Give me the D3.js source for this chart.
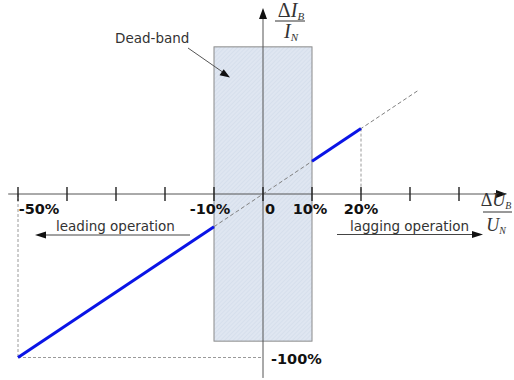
<!DOCTYPE html>
<html><head><meta charset="utf-8">
<script src="https://cdn.jsdelivr.net/npm/d3@7"></script>
<style>
body{margin:0;background:#fff;}
svg{display:block;}
</style></head>
<body>
<svg id="c" width="514" height="380"></svg>
<script>
// ---- data ----
const xTicks = [-50, -40, -30, -20, -10, 0, 10, 20, 30, 40];
const xTickLabels = [
  {v: -50, t: "-50%"}, {v: -10, t: "-10%"}, {v: 0, t: "0"}, {v: 10, t: "10%"}, {v: 20, t: "20%"}
];
const yLabelValue = -100, yLabelText = "-100%";
const deadBand = {x0: -10, x1: 10, y0: -90, y1: 90};
const blueSegments = [
  [[-50, -100], [-10, -20]],
  [[10, 20], [20, 40]]
];
const dashedLine = [[-10, -20], [31.5, 63]];
const guideV1 = [[-50, 0], [-50, -100]];
const guideH1 = [[-50, -100], [0, -100]];
const guideV2 = [[20, 40], [20, 0]];
const xAxisExtent = [-52, 49.8];
const yAxisExtent = [-112.5, 113.8];

// ---- scales ----
const x = d3.scaleLinear().domain([-50, 40]).range([18, 459]);
const y = d3.scaleLinear().domain([-100, 100]).range([357.5, 30.5]);

const svg = d3.select("#c");
const defs = svg.append("defs");
const pat = defs.append("pattern").attr("id", "hatch").attr("patternUnits", "userSpaceOnUse")
  .attr("width", 3).attr("height", 3).attr("patternTransform", "rotate(45)");
pat.append("rect").attr("width", 3).attr("height", 3).attr("fill", "#dfe6f1");
pat.append("line").attr("x1", 0).attr("y1", 0).attr("x2", 0).attr("y2", 3)
  .attr("stroke", "#ced8e8").attr("stroke-width", 1);

// dead-band
svg.append("rect")
  .attr("x", x(deadBand.x0)).attr("y", y(deadBand.y1))
  .attr("width", x(deadBand.x1) - x(deadBand.x0))
  .attr("height", y(deadBand.y0) - y(deadBand.y1))
  .attr("fill", "url(#hatch)").attr("stroke", "#8a8a8a").attr("stroke-width", 1);

const line = d3.line().x(d => x(d[0])).y(d => y(d[1]));

// guides
[guideV1, guideH1, guideV2].forEach(g => {
  svg.append("path").attr("d", line(g)).attr("fill", "none")
    .attr("stroke", "#9a9a9a").attr("stroke-width", 1).attr("stroke-dasharray", "3,2");
});
svg.append("path").attr("d", line(dashedLine)).attr("fill", "none")
  .attr("stroke", "#808080").attr("stroke-width", 1).attr("stroke-dasharray", "4,2.5");

// axes
const axisColor = "#555";
svg.append("line").attr("x1", x(xAxisExtent[0])).attr("x2", x(xAxisExtent[1]) - 8)
  .attr("y1", y(0)).attr("y2", y(0)).attr("stroke", axisColor).attr("stroke-width", 1);
svg.append("path").attr("d", `M${x(xAxisExtent[1])},${y(0)} l-11,-4 l0,8 z`).attr("fill", "#111");
svg.append("line").attr("x1", x(0)).attr("x2", x(0))
  .attr("y1", y(yAxisExtent[0])).attr("y2", y(yAxisExtent[1]) + 8)
  .attr("stroke", axisColor).attr("stroke-width", 1);
svg.append("path").attr("d", `M${x(0)},${y(yAxisExtent[1])} l-4,11 l8,0 z`).attr("fill", "#111");

svg.selectAll(".tick").data(xTicks).enter().append("line")
  .attr("x1", d => x(d)).attr("x2", d => x(d))
  .attr("y1", y(0) - 7).attr("y2", y(0) + 7)
  .attr("stroke", "#222").attr("stroke-width", 1.4);

// blue line
blueSegments.forEach(s => {
  svg.append("path").attr("d", line(s)).attr("fill", "none")
    .attr("stroke", "#0a14e6").attr("stroke-width", 3).attr("stroke-linecap", "butt");
});

// tick labels
const lblFont = "'DejaVu Sans', Verdana, sans-serif";
const dxMap = {"-50": 21, "-10": -4, "0": 7, "10": -2, "20": 0};
svg.selectAll(".tl").data(xTickLabels).enter().append("text")
  .attr("x", d => x(d.v) + dxMap[d.v]).attr("y", y(0) + 20)
  .attr("text-anchor", "middle")
  .attr("font-family", lblFont).attr("font-weight", "bold").attr("font-size", 14.5)
  .attr("fill", "#111").text(d => d.t);
svg.append("text").attr("x", x(0) + 8).attr("y", y(yLabelValue) + 6)
  .attr("font-family", lblFont).attr("font-weight", "bold").attr("font-size", 14.5)
  .attr("fill", "#111").text(yLabelText);

// operation labels
svg.append("text").attr("x", 56).attr("y", 231)
  .attr("font-family", lblFont).attr("font-size", 13.5).attr("fill", "#333").text("leading operation");
svg.append("line").attr("x1", 190).attr("x2", 45).attr("y1", 235).attr("y2", 235)
  .attr("stroke", "#444").attr("stroke-width", 1);
svg.append("path").attr("d", "M35,235 l11,-3.5 l0,7 z").attr("fill", "#111");

svg.append("text").attr("x", 350).attr("y", 231)
  .attr("font-family", lblFont).attr("font-size", 13.5).attr("fill", "#333").text("lagging operation");
svg.append("line").attr("x1", 337).attr("x2", 473).attr("y1", 234.5).attr("y2", 234.5)
  .attr("stroke", "#444").attr("stroke-width", 1);
svg.append("path").attr("d", "M483,234.5 l-11,-3.5 l0,7 z").attr("fill", "#111");

// dead-band label
svg.append("text").attr("x", 115).attr("y", 43)
  .attr("font-family", lblFont).attr("font-size", 13.5).attr("fill", "#333").text("Dead-band");
svg.append("line").attr("x1", 188).attr("y1", 48).attr("x2", 224).attr("y2", 73)
  .attr("stroke", "#555").attr("stroke-width", 1);
svg.append("path").attr("d", "M230,77.5 l-10.5,-2.2 l4.2,-6 z").attr("fill", "#111");

// fraction labels
const serif = "'Liberation Serif', 'Times New Roman', serif";
function frac(cx, yNum, yLine, yDen, x0, x1, letter, fs) {
  const num = svg.append("text").attr("x", cx).attr("y", yNum).attr("text-anchor", "middle")
    .attr("font-family", serif).attr("font-size", fs).attr("fill", "#333");
  num.append("tspan").text("\u0394");
  num.append("tspan").attr("font-style", "italic").text(letter);
  num.append("tspan").attr("font-style", "italic").attr("font-size", fs * 0.55).attr("dy", 3).text("B");
  svg.append("line").attr("x1", x0).attr("x2", x1).attr("y1", yLine).attr("y2", yLine)
    .attr("stroke", "#333").attr("stroke-width", 1);
  const den = svg.append("text").attr("x", cx).attr("y", yDen).attr("text-anchor", "middle")
    .attr("font-family", serif).attr("font-size", fs).attr("fill", "#333");
  den.append("tspan").attr("font-style", "italic").text(letter);
  den.append("tspan").attr("font-style", "italic").attr("font-size", fs * 0.55).attr("dy", 3).text("N");
}
frac(291, 17, 21, 38, 275, 305, "I", 20);
frac(496, 206, 212, 231, 483, 512, "U", 18);
</script>
</body></html>
